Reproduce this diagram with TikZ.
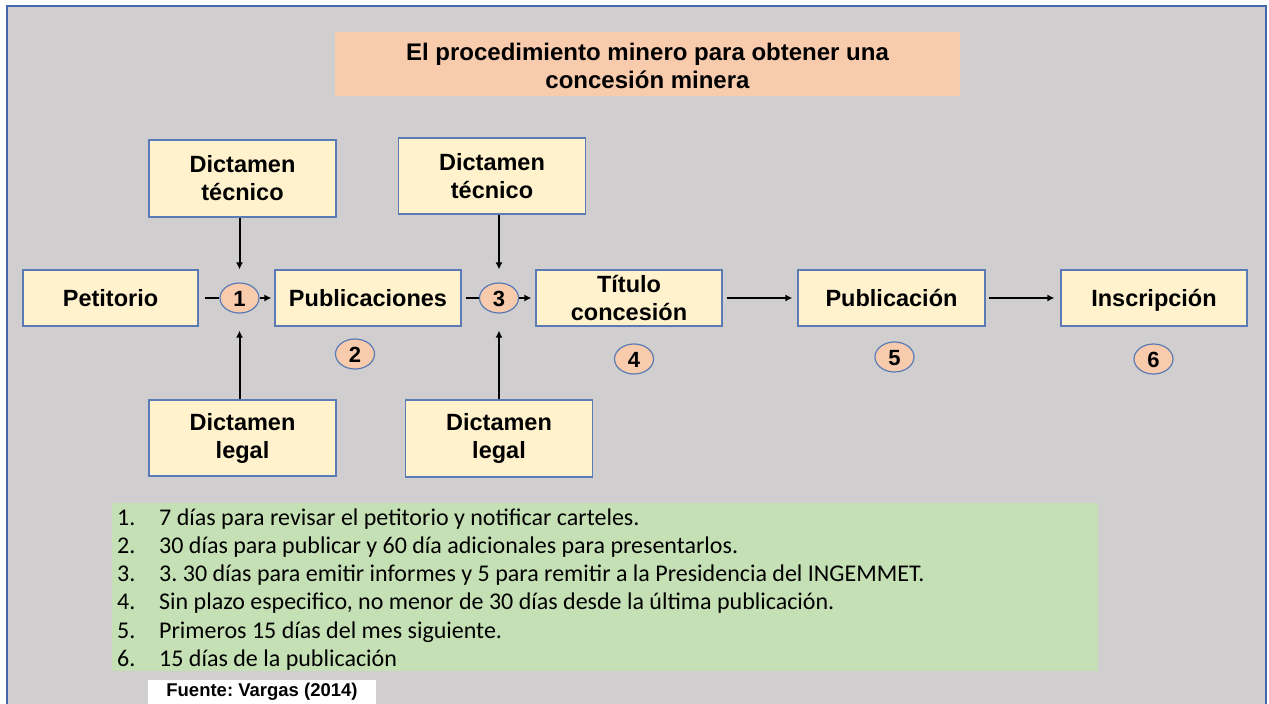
\documentclass[tikz,border=0pt]{standalone}
\usepackage{fontspec}
\setmainfont{Liberation Sans}
\newfontfamily\calib{Carlito}
\usetikzlibrary{arrows.meta,shapes.geometric}
\definecolor{bgray}{HTML}{D0CECE}
\definecolor{frameblue}{HTML}{4368B0}
\definecolor{boxfill}{HTML}{FFF2CC}
\definecolor{boxline}{HTML}{5A7BB5}
\definecolor{peach}{HTML}{F8CBAD}
\definecolor{lgreen}{HTML}{C5E0B4}
\frenchspacing
\begin{document}
\begin{tikzpicture}[x=1pt,y=-1pt,
  stepbox/.style={draw=boxline, line width=1.2pt, fill=boxfill, minimum width=187pt, minimum height=56pt,
    font=\fontsize{23.5}{28}\selectfont\bfseries, align=center, inner sep=0pt},
  oneline/.style={text height=20pt, text depth=4pt},
  numcirc/.style={ellipse, draw=boxline, line width=1.2pt, fill=peach, minimum width=39pt, minimum height=30pt,
    inner sep=0pt, font=\fontsize{22}{22}\selectfont\bfseries, text height=16pt, text depth=0pt},
  conn/.style={line width=2pt, -{Latex[length=7pt,width=7pt]}},
  plain/.style={line width=2pt},
  numtxt/.style={anchor=base west, inner sep=0pt, font=\calib\fontsize{24}{28}\selectfont},
  listtxt/.style={anchor=base west, inner sep=0pt, font=\calib\fontsize{24}{28}\selectfont}
]
\useasboundingbox (0,0) rectangle (1269,704);
\fill[white] (0,0) rectangle (1269,704);
\draw[frameblue, fill=bgray, line width=2pt] (7,6) rectangle (1266,720);

% title
\fill[peach] (335,32) rectangle (960,96);
\node[inner sep=0pt, align=center,
  font=\fontsize{24}{28}\selectfont\bfseries] (title) at (647.5,66)
  {El procedimiento minero para obtener una\\concesión minera};

% main row
\node[stepbox, oneline, minimum width=175pt] (pet) at (110.5,298) {Petitorio};
\node[stepbox, oneline, minimum width=186pt] (pub) at (368,298) {Publicaciones};
\node[stepbox, minimum width=186pt] (tit) at (629,298) {Título\\concesión};
\node[stepbox, oneline] (pbn) at (891.5,298) {Publicación};
\node[stepbox, oneline, minimum width=186pt] (ins) at (1154,298) {Inscripción};

% side boxes
\node[stepbox, minimum height=77pt] (tec1) at (242.5,178.5) {Dictamen\\técnico};
\node[stepbox, minimum height=76pt] (tec2) at (492,176) {Dictamen\\técnico};
\node[stepbox, minimum height=76pt] (leg1) at (242.5,438) {Dictamen\\legal};
\node[stepbox, minimum height=77pt] (leg2) at (499,438.5) {Dictamen\\legal};

% circles
\node[numcirc] (c1) at (239.5,298) {1};
\node[numcirc] (c3) at (499,298) {3};
\node[numcirc] (c2) at (355,354) {2};
\node[numcirc] (c4) at (634,359) {4};
\node[numcirc] (c5) at (894.5,357) {5};
\node[numcirc] (c6) at (1153.5,359) {6};

% connectors
\draw[plain, shorten <=6pt] (pet.east) -- (c1.west);
\draw[conn, shorten >=3pt] (c1.east) -- (pub.west);
\draw[plain, shorten <=4pt] (pub.east) -- (c3.west);
\draw[conn, shorten >=4pt] (c3.east) -- (tit.west);
\draw[conn, shorten <=4pt, shorten >=5pt] (tit.east) -- (pbn.west);
\draw[conn, shorten <=3pt, shorten >=6pt] (pbn.east) -- (ins.west);
\draw[conn, shorten >=13pt] (tec1.south -| c1) -- (c1.north);
\draw[conn, shorten >=17pt] (leg1.north -| c1) -- (c1.south);
\draw[conn, shorten >=13pt] (tec2.south -| c3) -- (c3.north);
\draw[conn, shorten >=17pt] (leg2.north -| c3) -- (c3.south);

% notes
\fill[lgreen] (112,503) rectangle (1098,671);
\node[numtxt] (n1) at (117,525) {1.};
\node[listtxt] (t1) at (159,525) {7 días para revisar el petitorio y notificar carteles.};
\node[numtxt] (n2) at (117,553.3) {2.};
\node[listtxt] (t2) at (159,553.3) {30 días para publicar y 60 día adicionales para presentarlos.};
\node[numtxt] (n3) at (117,581.6) {3.};
\node[listtxt] (t3) at (159,581.6) {3. 30 días para emitir informes y 5 para remitir a la Presidencia del INGEMMET.};
\node[numtxt] (n4) at (117,609.9) {4.};
\node[listtxt] (t4) at (159,609.9) {Sin plazo especifico, no menor de 30 días desde la última publicación.};
\node[numtxt] (n5) at (117,638.2) {5.};
\node[listtxt] (t5) at (159,638.2) {Primeros 15 días del mes siguiente.};
\node[numtxt] (n6) at (117,666.5) {6.};
\node[listtxt] (t6) at (159,666.5) {15 días de la publicación};

% source
\fill[white] (148,680) rectangle (376,710);
\node[font=\fontsize{18.5}{20}\selectfont\bfseries, inner sep=0pt] (src) at (262,692) {Fuente: Vargas (2014)};
\end{tikzpicture}
\end{document}
